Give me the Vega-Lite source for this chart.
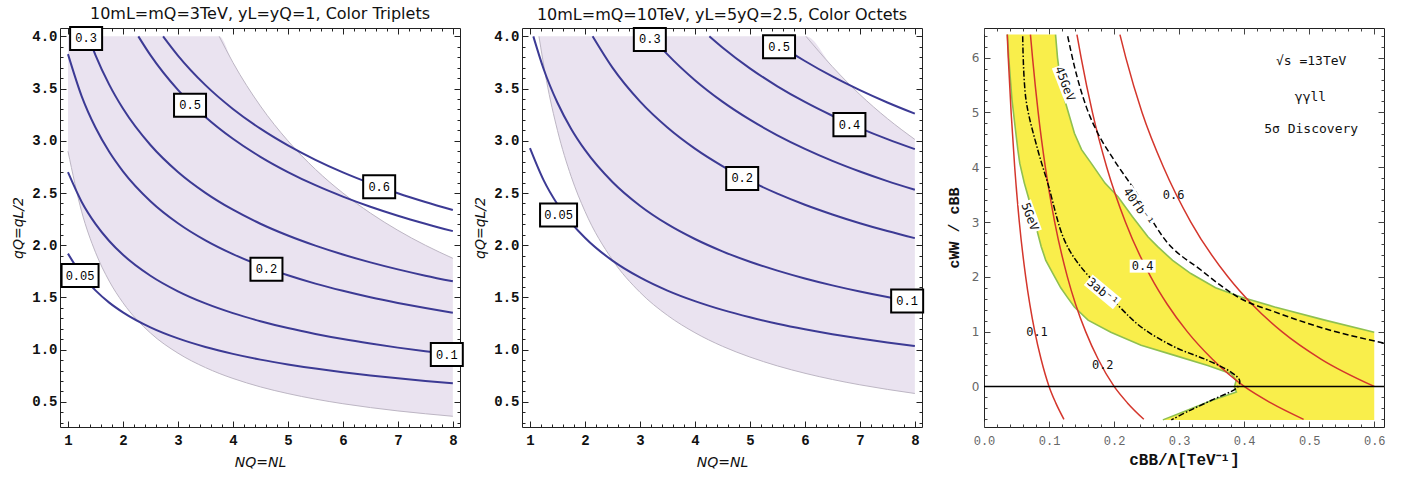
{
"$schema": "https://vega.github.io/schema/vega-lite/v6.json",
"padding": {"left": 11, "top": 5, "right": 5, "bottom": 5},
"background": "white",
"config": {"view": {"stroke": "#222", "strokeWidth": 1}},
"bounds": "flush",
"spacing": 62,
"datasets": {
"r1": [
{"n":1,"lo":2.9,"hi":4},{"n":1.25,"lo":2.32,"hi":4},{"n":1.5,"lo":1.933,"hi":4},{"n":1.75,"lo":1.657,"hi":4},{"n":2,"lo":1.45,"hi":4},{"n":2.5,"lo":1.16,"hi":4},{"n":3,"lo":0.967,"hi":4},{"n":3.5,"lo":0.829,"hi":4},{"n":3.75,"lo":0.773,"hi":4},{"n":4,"lo":0.725,"hi":3.75},{"n":4.5,"lo":0.644,"hi":3.333},{"n":5,"lo":0.58,"hi":3.0},{"n":5.5,"lo":0.527,"hi":2.727},{"n":6,"lo":0.483,"hi":2.5},{"n":6.5,"lo":0.446,"hi":2.308},{"n":7,"lo":0.414,"hi":2.143},{"n":7.5,"lo":0.387,"hi":2.0},{"n":8,"lo":0.3625,"hi":1.875}
],
"c1": [
{"v":"0.05","n":1,"q":1.92},{"v":"0.05","n":1.25,"q":1.717},{"v":"0.05","n":1.5,"q":1.568},{"v":"0.05","n":1.75,"q":1.451},{"v":"0.05","n":2,"q":1.358},{"v":"0.05","n":2.5,"q":1.214},{"v":"0.05","n":3,"q":1.108},{"v":"0.05","n":3.5,"q":1.026},{"v":"0.05","n":4,"q":0.96},{"v":"0.05","n":4.5,"q":0.905},{"v":"0.05","n":5,"q":0.859},{"v":"0.05","n":5.5,"q":0.819},{"v":"0.05","n":6,"q":0.784},{"v":"0.05","n":6.5,"q":0.753},{"v":"0.05","n":7,"q":0.726},{"v":"0.05","n":7.5,"q":0.701},{"v":"0.05","n":8,"q":0.679},
{"v":"0.1","n":1,"q":2.7},{"v":"0.1","n":1.25,"q":2.415},{"v":"0.1","n":1.5,"q":2.205},{"v":"0.1","n":1.75,"q":2.041},{"v":"0.1","n":2,"q":1.909},{"v":"0.1","n":2.5,"q":1.708},{"v":"0.1","n":3,"q":1.559},{"v":"0.1","n":3.5,"q":1.443},{"v":"0.1","n":4,"q":1.35},{"v":"0.1","n":4.5,"q":1.273},{"v":"0.1","n":5,"q":1.207},{"v":"0.1","n":5.5,"q":1.151},{"v":"0.1","n":6,"q":1.102},{"v":"0.1","n":6.5,"q":1.059},{"v":"0.1","n":7,"q":1.02},{"v":"0.1","n":7.5,"q":0.986},{"v":"0.1","n":8,"q":0.955},
{"v":"0.2","n":1,"q":3.83},{"v":"0.2","n":1.25,"q":3.426},{"v":"0.2","n":1.5,"q":3.127},{"v":"0.2","n":1.75,"q":2.895},{"v":"0.2","n":2,"q":2.708},{"v":"0.2","n":2.5,"q":2.422},{"v":"0.2","n":3,"q":2.211},{"v":"0.2","n":3.5,"q":2.047},{"v":"0.2","n":4,"q":1.915},{"v":"0.2","n":4.5,"q":1.805},{"v":"0.2","n":5,"q":1.713},{"v":"0.2","n":5.5,"q":1.633},{"v":"0.2","n":6,"q":1.564},{"v":"0.2","n":6.5,"q":1.502},{"v":"0.2","n":7,"q":1.448},{"v":"0.2","n":7.5,"q":1.399},{"v":"0.2","n":8,"q":1.354},
{"v":"0.3","n":1.369,"q":4.0},{"v":"0.3","n":1.5,"q":3.821},{"v":"0.3","n":1.75,"q":3.538},{"v":"0.3","n":2,"q":3.309},{"v":"0.3","n":2.5,"q":2.96},{"v":"0.3","n":3,"q":2.702},{"v":"0.3","n":3.5,"q":2.502},{"v":"0.3","n":4,"q":2.34},{"v":"0.3","n":4.5,"q":2.206},{"v":"0.3","n":5,"q":2.093},{"v":"0.3","n":5.5,"q":1.996},{"v":"0.3","n":6,"q":1.911},{"v":"0.3","n":6.5,"q":1.836},{"v":"0.3","n":7,"q":1.769},{"v":"0.3","n":7.5,"q":1.709},{"v":"0.3","n":8,"q":1.655},
{"v":"0.5","n":2.28,"q":4.0},{"v":"0.5","n":2.5,"q":3.82},{"v":"0.5","n":3,"q":3.487},{"v":"0.5","n":3.5,"q":3.229},{"v":"0.5","n":4,"q":3.02},{"v":"0.5","n":4.5,"q":2.847},{"v":"0.5","n":5,"q":2.701},{"v":"0.5","n":5.5,"q":2.575},{"v":"0.5","n":6,"q":2.466},{"v":"0.5","n":6.5,"q":2.369},{"v":"0.5","n":7,"q":2.283},{"v":"0.5","n":7.5,"q":2.206},{"v":"0.5","n":8,"q":2.135},
{"v":"0.6","n":2.73,"q":4.0},{"v":"0.6","n":3,"q":3.816},{"v":"0.6","n":3.5,"q":3.533},{"v":"0.6","n":4,"q":3.305},{"v":"0.6","n":4.5,"q":3.116},{"v":"0.6","n":5,"q":2.956},{"v":"0.6","n":5.5,"q":2.818},{"v":"0.6","n":6,"q":2.698},{"v":"0.6","n":6.5,"q":2.593},{"v":"0.6","n":7,"q":2.498},{"v":"0.6","n":7.5,"q":2.414},{"v":"0.6","n":8,"q":2.337}
],
"l1": [
{"t":"0.3","n":1.33,"q":3.98},{"t":"0.5","n":3.22,"q":3.34},{"t":"0.6","n":6.66,"q":2.56},{"t":"0.2","n":4.61,"q":1.77},{"t":"0.1","n":7.89,"q":0.954},{"t":"0.05","n":1.22,"q":1.71}
],
"r2": [
{"n":1.163,"lo":4.0,"hi":4},{"n":1.3,"lo":3.577,"hi":4},{"n":1.5,"lo":3.1,"hi":4},{"n":1.75,"lo":2.657,"hi":4},{"n":2,"lo":2.325,"hi":4},{"n":2.5,"lo":1.86,"hi":4},{"n":3,"lo":1.55,"hi":4},{"n":3.5,"lo":1.329,"hi":4},{"n":4,"lo":1.163,"hi":4},{"n":4.5,"lo":1.033,"hi":4},{"n":5,"lo":0.93,"hi":4},{"n":5.5,"lo":0.845,"hi":4},{"n":6.02,"lo":0.772,"hi":4},{"n":6.5,"lo":0.715,"hi":3.71},{"n":7,"lo":0.664,"hi":3.443},{"n":7.5,"lo":0.62,"hi":3.213},{"n":8,"lo":0.581,"hi":3.013}
],
"c2": [
{"v":"0.05","n":1,"q":2.93},{"v":"0.05","n":1.25,"q":2.621},{"v":"0.05","n":1.5,"q":2.392},{"v":"0.05","n":1.75,"q":2.215},{"v":"0.05","n":2,"q":2.072},{"v":"0.05","n":2.5,"q":1.853},{"v":"0.05","n":3,"q":1.692},{"v":"0.05","n":3.5,"q":1.566},{"v":"0.05","n":4,"q":1.465},{"v":"0.05","n":4.5,"q":1.381},{"v":"0.05","n":5,"q":1.31},{"v":"0.05","n":5.5,"q":1.249},{"v":"0.05","n":6,"q":1.196},{"v":"0.05","n":6.5,"q":1.149},{"v":"0.05","n":7,"q":1.107},{"v":"0.05","n":7.5,"q":1.07},{"v":"0.05","n":8,"q":1.036},
{"v":"0.1","n":1.061,"q":4.0},{"v":"0.1","n":1.25,"q":3.685},{"v":"0.1","n":1.5,"q":3.364},{"v":"0.1","n":1.75,"q":3.114},{"v":"0.1","n":2,"q":2.913},{"v":"0.1","n":2.5,"q":2.606},{"v":"0.1","n":3,"q":2.379},{"v":"0.1","n":3.5,"q":2.202},{"v":"0.1","n":4,"q":2.06},{"v":"0.1","n":4.5,"q":1.942},{"v":"0.1","n":5,"q":1.842},{"v":"0.1","n":5.5,"q":1.757},{"v":"0.1","n":6,"q":1.682},{"v":"0.1","n":6.5,"q":1.616},{"v":"0.1","n":7,"q":1.557},{"v":"0.1","n":7.5,"q":1.504},{"v":"0.1","n":8,"q":1.457},
{"v":"0.2","n":2.139,"q":4.0},{"v":"0.2","n":2.5,"q":3.7},{"v":"0.2","n":3,"q":3.377},{"v":"0.2","n":3.5,"q":3.127},{"v":"0.2","n":4,"q":2.925},{"v":"0.2","n":4.5,"q":2.758},{"v":"0.2","n":5,"q":2.616},{"v":"0.2","n":5.5,"q":2.494},{"v":"0.2","n":6,"q":2.388},{"v":"0.2","n":6.5,"q":2.295},{"v":"0.2","n":7,"q":2.211},{"v":"0.2","n":7.5,"q":2.136},{"v":"0.2","n":8,"q":2.068},
{"v":"0.3","n":3.204,"q":4.0},{"v":"0.3","n":3.5,"q":3.827},{"v":"0.3","n":4,"q":3.58},{"v":"0.3","n":4.5,"q":3.375},{"v":"0.3","n":5,"q":3.202},{"v":"0.3","n":5.5,"q":3.053},{"v":"0.3","n":6,"q":2.923},{"v":"0.3","n":6.5,"q":2.808},{"v":"0.3","n":7,"q":2.706},{"v":"0.3","n":7.5,"q":2.614},{"v":"0.3","n":8,"q":2.531},
{"v":"0.4","n":4.264,"q":4.0},{"v":"0.4","n":4.5,"q":3.894},{"v":"0.4","n":5,"q":3.694},{"v":"0.4","n":5.5,"q":3.522},{"v":"0.4","n":6,"q":3.372},{"v":"0.4","n":6.5,"q":3.24},{"v":"0.4","n":7,"q":3.122},{"v":"0.4","n":7.5,"q":3.016},{"v":"0.4","n":8,"q":2.92},
{"v":"0.5","n":5.313,"q":4.0},{"v":"0.5","n":5.5,"q":3.931},{"v":"0.5","n":6,"q":3.764},{"v":"0.5","n":6.5,"q":3.616},{"v":"0.5","n":7,"q":3.485},{"v":"0.5","n":7.5,"q":3.367},{"v":"0.5","n":8,"q":3.26}
],
"l2": [
{"t":"0.05","n":1.52,"q":2.29},{"t":"0.3","n":3.18,"q":3.97},{"t":"0.5","n":5.53,"q":3.9},{"t":"0.4","n":6.81,"q":3.155},{"t":"0.2","n":4.86,"q":2.64},{"t":"0.1","n":7.86,"q":1.466}
],
"band": [
{"r":6.42,"xl":0.036,"xr":0.11},{"r":6.0,"xl":0.038,"xr":0.113},{"r":5.54,"xl":0.041,"xr":0.118},{"r":5.23,"xl":0.043,"xr":0.124},{"r":4.62,"xl":0.049,"xr":0.139},{"r":4.32,"xl":0.052,"xr":0.15},{"r":4.07,"xl":0.055,"xr":0.165},{"r":3.71,"xl":0.062,"xr":0.186},{"r":3.46,"xl":0.068,"xr":0.206},{"r":3.1,"xl":0.076,"xr":0.228},{"r":2.73,"xl":0.084,"xr":0.252},{"r":2.55,"xl":0.088,"xr":0.267},{"r":2.3,"xl":0.095,"xr":0.29},{"r":2.06,"xl":0.106,"xr":0.318},{"r":1.8,"xl":0.118,"xr":0.356},{"r":1.63,"xl":0.128,"xr":0.395},{"r":1.45,"xl":0.139,"xr":0.447},{"r":1.21,"xl":0.16,"xr":0.524},{"r":0.99,"xl":0.195,"xr":0.6},{"r":0.75,"xl":0.2415,"xr":0.6},{"r":0.567,"xl":0.293,"xr":0.6},{"r":0.384,"xl":0.344,"xr":0.6},{"r":0.232,"xl":0.38,"xr":0.6},{"r":0.11,"xl":0.3877,"xr":0.6},{"r":-0.01,"xl":0.385,"xr":0.6},{"r":-0.1,"xl":0.388,"xr":0.6},{"r":-0.256,"xl":0.35,"xr":0.6},{"r":-0.47,"xl":0.305,"xr":0.6},{"r":-0.61,"xl":0.275,"xr":0.6}
],
"red": [
{"v":"0.1","r":6.42,"c":0.0357},{"v":"0.1","r":6,"c":0.0373},{"v":"0.1","r":5,"c":0.0417},{"v":"0.1","r":4,"c":0.0472},{"v":"0.1","r":3,"c":0.0543},{"v":"0.1","r":2,"c":0.0641},{"v":"0.1","r":1.5,"c":0.0704},{"v":"0.1","r":1,"c":0.0781},{"v":"0.1","r":0.5,"c":0.0877},{"v":"0.1","r":0,"c":0.1},{"v":"0.1","r":-0.3,"c":0.1103},{"v":"0.1","r":-0.6,"c":0.1229},
{"v":"0.2","r":6.42,"c":0.0714},{"v":"0.2","r":6,"c":0.0746},{"v":"0.2","r":5,"c":0.0833},{"v":"0.2","r":4,"c":0.0943},{"v":"0.2","r":3,"c":0.1087},{"v":"0.2","r":2,"c":0.1282},{"v":"0.2","r":1.5,"c":0.1408},{"v":"0.2","r":1,"c":0.1563},{"v":"0.2","r":0.5,"c":0.1754},{"v":"0.2","r":0,"c":0.2},{"v":"0.2","r":-0.3,"c":0.2205},{"v":"0.2","r":-0.6,"c":0.2457},
{"v":"0.4","r":6.42,"c":0.1429},{"v":"0.4","r":6,"c":0.1493},{"v":"0.4","r":5,"c":0.1667},{"v":"0.4","r":4,"c":0.1887},{"v":"0.4","r":3,"c":0.2174},{"v":"0.4","r":2,"c":0.2564},{"v":"0.4","r":1.5,"c":0.2817},{"v":"0.4","r":1,"c":0.3125},{"v":"0.4","r":0.5,"c":0.3509},{"v":"0.4","r":0,"c":0.4},{"v":"0.4","r":-0.3,"c":0.441},{"v":"0.4","r":-0.6,"c":0.4914},
{"v":"0.6","r":6.42,"c":0.209},{"v":"0.6","r":6,"c":0.218},{"v":"0.6","r":5,"c":0.243},{"v":"0.6","r":4,"c":0.276},{"v":"0.6","r":3,"c":0.318},{"v":"0.6","r":2,"c":0.375},{"v":"0.6","r":1.5,"c":0.412},{"v":"0.6","r":1,"c":0.458},{"v":"0.6","r":0.5,"c":0.518},{"v":"0.6","r":0,"c":0.6}
],
"dash": [
{"r":6.39,"c":0.1287},{"r":5.84,"c":0.139},{"r":5.11,"c":0.157},{"r":4.62,"c":0.175},{"r":4.13,"c":0.2},{"r":3.5,"c":0.236},{"r":3.0,"c":0.26},{"r":2.73,"c":0.275},{"r":2.12,"c":0.334},{"r":1.6,"c":0.395},{"r":1.36,"c":0.447},{"r":1.055,"c":0.524},{"r":0.79,"c":0.615}
],
"dashdot": [
{"r":6.39,"c":0.0595},{"r":5.23,"c":0.0646},{"r":4.32,"c":0.0826},{"r":3.71,"c":0.098},{"r":2.67,"c":0.1236},{"r":2.18,"c":0.149},{"r":1.48,"c":0.206},{"r":1.085,"c":0.2415},{"r":0.72,"c":0.293},{"r":0.476,"c":0.344},{"r":0.26,"c":0.38},{"r":0.11,"c":0.393},{"r":-0.01,"c":0.39},{"r":-0.256,"c":0.349},{"r":-0.44,"c":0.316},{"r":-0.61,"c":0.288}
],
"t3": [
{"t":"√s =13TeV","c":0.503,"r":5.94},{"t":"γγll","c":0.502,"r":5.29},{"t":"5σ Discovery","c":0.503,"r":4.7},{"t":"0.1","c":0.0815,"r":0.99},{"t":"0.2","c":0.1826,"r":0.384},{"t":"0.4","c":0.244,"r":2.195},{"t":"0.6","c":0.2915,"r":3.49},{"t":"45GeV","c":0.1246,"r":5.524},{"t":"5GeV","c":0.0708,"r":3.097},{"t":"40fb⁻¹","c":0.2374,"r":3.28},{"t":"3ab⁻¹","c":0.1826,"r":1.725}
]
},
"hconcat": [
{
"width": 400, "height": 399,
"title": {"text": "10mL=mQ=3TeV, yL=yQ=1, Color Triplets", "font": "DejaVu Sans", "fontSize": 16, "fontWeight": "normal", "color": "#111", "offset": 1},
"resolve": {"axis": {"x": "independent", "y": "independent"}},
"layer": [
{"data": {"name": "r1"}, "mark": {"type": "area", "color": "#eae3f0", "opacity": 1, "interpolate": "monotone", "clip": true},
 "encoding": {
  "x": {"field": "n", "type": "quantitative", "scale": {"domain": [0.855, 8.13], "nice": false, "zero": false},
        "axis": {"orient": "bottom", "values": [1,2,3,4,5,6,7,8], "format": "d", "tickSize": -6, "tickColor": "#222", "labelFont": "Liberation Mono", "labelFontSize": 14, "labelFontWeight": "bold", "labelColor": "#111", "labelPadding": 12, "labelFlush": false, "labelOverlap": false, "domain": false, "grid": false, "title": "NQ=NL", "titleFont": "DejaVu Sans", "titleFontSize": 14, "titleFontStyle": "italic", "titleFontWeight": "normal", "titleColor": "#111", "titlePadding": 8}},
  "y": {"field": "lo", "type": "quantitative", "scale": {"domain": [0.26, 4.08], "nice": false, "zero": false},
        "axis": {"orient": "left", "values": [0.5,1,1.5,2,2.5,3,3.5,4], "format": ".1f", "tickSize": -6, "tickColor": "#222", "labelFont": "Liberation Mono", "labelFontSize": 14, "labelFontWeight": "bold", "labelColor": "#111", "labelPadding": 9, "labelFlush": false, "labelOverlap": false, "domain": false, "grid": false, "title": "qQ=qL/2", "titleFont": "DejaVu Sans", "titleFontSize": 14, "titleFontStyle": "italic", "titleFontWeight": "normal", "titleColor": "#111", "titlePadding": 6}},
  "y2": {"field": "hi"}}},
{"data": {"name": "r1"}, "mark": {"type": "line", "color": "#bdb6c4", "strokeWidth": 1, "interpolate": "monotone", "clip": true},
 "encoding": {
  "x": {"field": "n", "type": "quantitative", "scale": {"domain": [0.855, 8.13], "nice": false, "zero": false},
        "axis": {"orient": "bottom", "values": [1.2,1.4,1.6,1.8,2.2,2.4,2.6,2.8,3.2,3.4,3.6,3.8,4.2,4.4,4.6,4.8,5.2,5.4,5.6,5.8,6.2,6.4,6.6,6.8,7.2,7.4,7.6,7.8], "tickSize": -3, "tickColor": "#222", "labels": false, "title": null, "domain": false, "grid": false}},
  "y": {"field": "lo", "type": "quantitative", "scale": {"domain": [0.26, 4.08], "nice": false, "zero": false},
        "axis": {"orient": "left", "values": [0.3,0.4,0.6,0.7,0.8,0.9,1.1,1.2,1.3,1.4,1.6,1.7,1.8,1.9,2.1,2.2,2.3,2.4,2.6,2.7,2.8,2.9,3.1,3.2,3.3,3.4,3.6,3.7,3.8,3.9], "tickSize": -3, "tickColor": "#222", "labels": false, "title": null, "domain": false, "grid": false}}}},
{"data": {"name": "r1"}, "transform": [{"filter": "datum.n >= 3.75"}], "mark": {"type": "line", "color": "#bdb6c4", "strokeWidth": 1, "interpolate": "monotone", "clip": true},
 "encoding": {
  "x": {"field": "n", "type": "quantitative", "scale": {"domain": [0.855, 8.13], "nice": false, "zero": false},
        "axis": {"orient": "top", "values": [1,2,3,4,5,6,7,8], "tickSize": -6, "tickColor": "#222", "labels": false, "title": null, "domain": false, "grid": false}},
  "y": {"field": "hi", "type": "quantitative", "scale": {"domain": [0.26, 4.08], "nice": false, "zero": false},
        "axis": {"orient": "right", "values": [0.5,1,1.5,2,2.5,3,3.5,4], "tickSize": -6, "tickColor": "#222", "labels": false, "title": null, "domain": false, "grid": false}}}},
{"data": {"name": "c1"}, "mark": {"type": "line", "color": "#3c3a94", "strokeWidth": 2, "interpolate": "monotone", "clip": true},
 "encoding": {
  "x": {"field": "n", "type": "quantitative", "scale": {"domain": [0.855, 8.13], "nice": false, "zero": false},
        "axis": {"orient": "top", "values": [1.2,1.4,1.6,1.8,2.2,2.4,2.6,2.8,3.2,3.4,3.6,3.8,4.2,4.4,4.6,4.8,5.2,5.4,5.6,5.8,6.2,6.4,6.6,6.8,7.2,7.4,7.6,7.8], "tickSize": -3, "tickColor": "#222", "labels": false, "title": null, "domain": false, "grid": false}},
  "y": {"field": "q", "type": "quantitative", "scale": {"domain": [0.26, 4.08], "nice": false, "zero": false},
        "axis": {"orient": "right", "values": [0.3,0.4,0.6,0.7,0.8,0.9,1.1,1.2,1.3,1.4,1.6,1.7,1.8,1.9,2.1,2.2,2.3,2.4,2.6,2.7,2.8,2.9,3.1,3.2,3.3,3.4,3.6,3.7,3.8,3.9], "tickSize": -3, "tickColor": "#222", "labels": false, "title": null, "domain": false, "grid": false}},
  "detail": {"field": "v", "type": "nominal"}}},
{"data": {"name": "l1"}, "transform": [{"filter": "datum.t != '0.05'"}], "mark": {"type": "point", "shape": "M-1,-0.72H1V0.72H-1Z", "size": 1024, "filled": true, "fill": "white", "stroke": "black", "strokeWidth": 2, "opacity": 1},
 "encoding": {
  "x": {"field": "n", "type": "quantitative", "scale": {"domain": [0.855, 8.13], "nice": false, "zero": false}, "axis": null},
  "y": {"field": "q", "type": "quantitative", "scale": {"domain": [0.26, 4.08], "nice": false, "zero": false}, "axis": null}}},
{"data": {"name": "l1"}, "transform": [{"filter": "datum.t == '0.05'"}], "mark": {"type": "point", "shape": "M-1,-0.62H1V0.62H-1Z", "size": 1369, "filled": true, "fill": "white", "stroke": "black", "strokeWidth": 2, "opacity": 1},
 "encoding": {
  "x": {"field": "n", "type": "quantitative", "scale": {"domain": [0.855, 8.13], "nice": false, "zero": false}, "axis": null},
  "y": {"field": "q", "type": "quantitative", "scale": {"domain": [0.26, 4.08], "nice": false, "zero": false}, "axis": null}}},
{"data": {"name": "l1"}, "mark": {"type": "text", "font": "Liberation Mono", "fontSize": 12, "color": "black", "align": "center", "baseline": "middle"},
 "encoding": {
  "x": {"field": "n", "type": "quantitative", "scale": {"domain": [0.855, 8.13], "nice": false, "zero": false}, "axis": null},
  "y": {"field": "q", "type": "quantitative", "scale": {"domain": [0.26, 4.08], "nice": false, "zero": false}, "axis": null},
  "text": {"field": "t"}}}
]
},
{
"width": 400, "height": 399,
"title": {"text": "10mL=mQ=10TeV, yL=5yQ=2.5, Color Octets", "font": "DejaVu Sans", "fontSize": 16, "fontWeight": "normal", "color": "#111", "offset": 1},
"resolve": {"axis": {"x": "independent", "y": "independent"}},
"layer": [
{"data": {"name": "r2"}, "mark": {"type": "area", "color": "#eae3f0", "opacity": 1, "interpolate": "monotone", "clip": true},
 "encoding": {
  "x": {"field": "n", "type": "quantitative", "scale": {"domain": [0.855, 8.13], "nice": false, "zero": false},
        "axis": {"orient": "bottom", "values": [1,2,3,4,5,6,7,8], "format": "d", "tickSize": -6, "tickColor": "#222", "labelFont": "Liberation Mono", "labelFontSize": 14, "labelFontWeight": "bold", "labelColor": "#111", "labelPadding": 12, "labelFlush": false, "labelOverlap": false, "domain": false, "grid": false, "title": "NQ=NL", "titleFont": "DejaVu Sans", "titleFontSize": 14, "titleFontStyle": "italic", "titleFontWeight": "normal", "titleColor": "#111", "titlePadding": 8}},
  "y": {"field": "lo", "type": "quantitative", "scale": {"domain": [0.26, 4.08], "nice": false, "zero": false},
        "axis": {"orient": "left", "values": [0.5,1,1.5,2,2.5,3,3.5,4], "format": ".1f", "tickSize": -6, "tickColor": "#222", "labelFont": "Liberation Mono", "labelFontSize": 14, "labelFontWeight": "bold", "labelColor": "#111", "labelPadding": 9, "labelFlush": false, "labelOverlap": false, "domain": false, "grid": false, "title": "qQ=qL/2", "titleFont": "DejaVu Sans", "titleFontSize": 14, "titleFontStyle": "italic", "titleFontWeight": "normal", "titleColor": "#111", "titlePadding": 6}},
  "y2": {"field": "hi"}}},
{"data": {"name": "r2"}, "mark": {"type": "line", "color": "#bdb6c4", "strokeWidth": 1, "interpolate": "monotone", "clip": true},
 "encoding": {
  "x": {"field": "n", "type": "quantitative", "scale": {"domain": [0.855, 8.13], "nice": false, "zero": false},
        "axis": {"orient": "bottom", "values": [1.2,1.4,1.6,1.8,2.2,2.4,2.6,2.8,3.2,3.4,3.6,3.8,4.2,4.4,4.6,4.8,5.2,5.4,5.6,5.8,6.2,6.4,6.6,6.8,7.2,7.4,7.6,7.8], "tickSize": -3, "tickColor": "#222", "labels": false, "title": null, "domain": false, "grid": false}},
  "y": {"field": "lo", "type": "quantitative", "scale": {"domain": [0.26, 4.08], "nice": false, "zero": false},
        "axis": {"orient": "left", "values": [0.3,0.4,0.6,0.7,0.8,0.9,1.1,1.2,1.3,1.4,1.6,1.7,1.8,1.9,2.1,2.2,2.3,2.4,2.6,2.7,2.8,2.9,3.1,3.2,3.3,3.4,3.6,3.7,3.8,3.9], "tickSize": -3, "tickColor": "#222", "labels": false, "title": null, "domain": false, "grid": false}}}},
{"data": {"name": "r2"}, "transform": [{"filter": "datum.n >= 6.02"}], "mark": {"type": "line", "color": "#bdb6c4", "strokeWidth": 1, "interpolate": "monotone", "clip": true},
 "encoding": {
  "x": {"field": "n", "type": "quantitative", "scale": {"domain": [0.855, 8.13], "nice": false, "zero": false},
        "axis": {"orient": "top", "values": [1,2,3,4,5,6,7,8], "tickSize": -6, "tickColor": "#222", "labels": false, "title": null, "domain": false, "grid": false}},
  "y": {"field": "hi", "type": "quantitative", "scale": {"domain": [0.26, 4.08], "nice": false, "zero": false},
        "axis": {"orient": "right", "values": [0.5,1,1.5,2,2.5,3,3.5,4], "tickSize": -6, "tickColor": "#222", "labels": false, "title": null, "domain": false, "grid": false}}}},
{"data": {"name": "c2"}, "mark": {"type": "line", "color": "#3c3a94", "strokeWidth": 2, "interpolate": "monotone", "clip": true},
 "encoding": {
  "x": {"field": "n", "type": "quantitative", "scale": {"domain": [0.855, 8.13], "nice": false, "zero": false},
        "axis": {"orient": "top", "values": [1.2,1.4,1.6,1.8,2.2,2.4,2.6,2.8,3.2,3.4,3.6,3.8,4.2,4.4,4.6,4.8,5.2,5.4,5.6,5.8,6.2,6.4,6.6,6.8,7.2,7.4,7.6,7.8], "tickSize": -3, "tickColor": "#222", "labels": false, "title": null, "domain": false, "grid": false}},
  "y": {"field": "q", "type": "quantitative", "scale": {"domain": [0.26, 4.08], "nice": false, "zero": false},
        "axis": {"orient": "right", "values": [0.3,0.4,0.6,0.7,0.8,0.9,1.1,1.2,1.3,1.4,1.6,1.7,1.8,1.9,2.1,2.2,2.3,2.4,2.6,2.7,2.8,2.9,3.1,3.2,3.3,3.4,3.6,3.7,3.8,3.9], "tickSize": -3, "tickColor": "#222", "labels": false, "title": null, "domain": false, "grid": false}},
  "detail": {"field": "v", "type": "nominal"}}},
{"data": {"name": "l2"}, "transform": [{"filter": "datum.t != '0.05'"}], "mark": {"type": "point", "shape": "M-1,-0.72H1V0.72H-1Z", "size": 1024, "filled": true, "fill": "white", "stroke": "black", "strokeWidth": 2, "opacity": 1},
 "encoding": {
  "x": {"field": "n", "type": "quantitative", "scale": {"domain": [0.855, 8.13], "nice": false, "zero": false}, "axis": null},
  "y": {"field": "q", "type": "quantitative", "scale": {"domain": [0.26, 4.08], "nice": false, "zero": false}, "axis": null}}},
{"data": {"name": "l2"}, "transform": [{"filter": "datum.t == '0.05'"}], "mark": {"type": "point", "shape": "M-1,-0.62H1V0.62H-1Z", "size": 1369, "filled": true, "fill": "white", "stroke": "black", "strokeWidth": 2, "opacity": 1},
 "encoding": {
  "x": {"field": "n", "type": "quantitative", "scale": {"domain": [0.855, 8.13], "nice": false, "zero": false}, "axis": null},
  "y": {"field": "q", "type": "quantitative", "scale": {"domain": [0.26, 4.08], "nice": false, "zero": false}, "axis": null}}},
{"data": {"name": "l2"}, "mark": {"type": "text", "font": "Liberation Mono", "fontSize": 12, "color": "black", "align": "center", "baseline": "middle"},
 "encoding": {
  "x": {"field": "n", "type": "quantitative", "scale": {"domain": [0.855, 8.13], "nice": false, "zero": false}, "axis": null},
  "y": {"field": "q", "type": "quantitative", "scale": {"domain": [0.26, 4.08], "nice": false, "zero": false}, "axis": null},
  "text": {"field": "t"}}}
]
},
{
"width": 400, "height": 399,
"resolve": {"axis": {"x": "independent", "y": "independent"}},
"layer": [
{"data": {"name": "band"}, "mark": {"type": "area", "orient": "horizontal", "color": "#f9ee4b", "opacity": 1, "interpolate": "linear", "clip": true},
 "encoding": {
  "y": {"field": "r", "type": "quantitative", "scale": {"domain": [-0.74, 6.54], "nice": false, "zero": false},
        "axis": {"orient": "left", "values": [0,1,2,3,4,5,6], "format": "d", "tickSize": -6, "tickColor": "#444", "labelFont": "DejaVu Sans", "labelFontSize": 12, "labelColor": "#666", "labelPadding": 11, "labelFlush": false, "labelOverlap": false, "domain": false, "grid": false, "title": "cWW / cBB", "titleFont": "Liberation Mono", "titleFontSize": 15, "titleFontWeight": "bold", "titleColor": "#111", "titlePadding": 10}},
  "x": {"field": "xl", "type": "quantitative", "scale": {"domain": [0, 0.615], "nice": false, "zero": false},
        "axis": {"orient": "bottom", "values": [0,0.1,0.2,0.3,0.4,0.5,0.6], "format": ".1f", "tickSize": -6, "tickColor": "#444", "labelFont": "Liberation Mono", "labelFontSize": 12, "labelColor": "#666", "labelPadding": 14, "labelFlush": false, "labelOverlap": false, "domain": false, "grid": false, "title": "cBB/Λ[TeV⁻¹]", "titleFont": "Liberation Mono", "titleFontSize": 16, "titleFontWeight": "bold", "titleColor": "#111", "titlePadding": 5}},
  "x2": {"field": "xr"}}},
{"data": {"name": "band"}, "mark": {"type": "line", "color": "#8fc04f", "strokeWidth": 1.6, "interpolate": "linear", "clip": true},
 "encoding": {
  "x": {"field": "xl", "type": "quantitative", "scale": {"domain": [0, 0.615], "nice": false, "zero": false},
        "axis": {"orient": "bottom", "values": [0.02,0.04,0.06,0.08,0.12,0.14,0.16,0.18,0.22,0.24,0.26,0.28,0.32,0.34,0.36,0.38,0.42,0.44,0.46,0.48,0.52,0.54,0.56,0.58], "tickSize": -3, "tickColor": "#444", "labels": false, "title": null, "domain": false, "grid": false}},
  "y": {"field": "r", "type": "quantitative", "scale": {"domain": [-0.74, 6.54], "nice": false, "zero": false},
        "axis": {"orient": "left", "values": [-0.6,-0.4,-0.2,0.2,0.4,0.6,0.8,1.2,1.4,1.6,1.8,2.2,2.4,2.6,2.8,3.2,3.4,3.6,3.8,4.2,4.4,4.6,4.8,5.2,5.4,5.6,5.8,6.2,6.4], "tickSize": -3, "tickColor": "#444", "labels": false, "title": null, "domain": false, "grid": false}},
  "order": {"field": "r", "type": "quantitative"}}},
{"data": {"name": "band"}, "transform": [{"filter": "datum.r >= 0.99"}], "mark": {"type": "line", "color": "#8fc04f", "strokeWidth": 1.6, "interpolate": "linear", "clip": true},
 "encoding": {
  "x": {"field": "xr", "type": "quantitative", "scale": {"domain": [0, 0.615], "nice": false, "zero": false},
        "axis": {"orient": "top", "values": [0,0.1,0.2,0.3,0.4,0.5,0.6], "tickSize": -6, "tickColor": "#444", "labels": false, "title": null, "domain": false, "grid": false}},
  "y": {"field": "r", "type": "quantitative", "scale": {"domain": [-0.74, 6.54], "nice": false, "zero": false},
        "axis": {"orient": "right", "values": [0,1,2,3,4,5,6], "tickSize": -6, "tickColor": "#444", "labels": false, "title": null, "domain": false, "grid": false}},
  "order": {"field": "r", "type": "quantitative"}}},
{"data": {"name": "red"}, "mark": {"type": "line", "color": "#d4362c", "strokeWidth": 1.5, "interpolate": "monotone", "clip": true},
 "encoding": {
  "x": {"field": "c", "type": "quantitative", "scale": {"domain": [0, 0.615], "nice": false, "zero": false},
        "axis": {"orient": "top", "values": [0.02,0.04,0.06,0.08,0.12,0.14,0.16,0.18,0.22,0.24,0.26,0.28,0.32,0.34,0.36,0.38,0.42,0.44,0.46,0.48,0.52,0.54,0.56,0.58], "tickSize": -3, "tickColor": "#444", "labels": false, "title": null, "domain": false, "grid": false}},
  "y": {"field": "r", "type": "quantitative", "scale": {"domain": [-0.74, 6.54], "nice": false, "zero": false},
        "axis": {"orient": "right", "values": [-0.6,-0.4,-0.2,0.2,0.4,0.6,0.8,1.2,1.4,1.6,1.8,2.2,2.4,2.6,2.8,3.2,3.4,3.6,3.8,4.2,4.4,4.6,4.8,5.2,5.4,5.6,5.8,6.2,6.4], "tickSize": -3, "tickColor": "#444", "labels": false, "title": null, "domain": false, "grid": false}},
  "detail": {"field": "v", "type": "nominal"}}},
{"data": {"name": "dash"}, "mark": {"type": "line", "color": "black", "strokeWidth": 1.5, "strokeDash": [6, 3], "interpolate": "monotone", "clip": true},
 "encoding": {
  "x": {"field": "c", "type": "quantitative", "scale": {"domain": [0, 0.615], "nice": false, "zero": false}, "axis": null},
  "y": {"field": "r", "type": "quantitative", "scale": {"domain": [-0.74, 6.54], "nice": false, "zero": false}, "axis": null}}},
{"data": {"name": "dashdot"}, "mark": {"type": "line", "color": "black", "strokeWidth": 1.5, "strokeDash": [6, 2, 1.5, 2], "interpolate": "catmull-rom", "clip": true},
 "encoding": {
  "x": {"field": "c", "type": "quantitative", "scale": {"domain": [0, 0.615], "nice": false, "zero": false}, "axis": null},
  "y": {"field": "r", "type": "quantitative", "scale": {"domain": [-0.74, 6.54], "nice": false, "zero": false}, "axis": null},
  "order": {"field": "r", "type": "quantitative", "sort": "descending"}}},
{"data": {"values": [{"r": 0}]}, "mark": {"type": "rule", "color": "black", "strokeWidth": 1.4},
 "encoding": {
  "y": {"field": "r", "type": "quantitative", "scale": {"domain": [-0.74, 6.54], "nice": false, "zero": false}, "axis": null}}},
{"data": {"name": "t3"}, "transform": [{"filter": {"field": "t", "equal": "0.4"}}], "mark": {"type": "point", "shape": "M-1,-0.5H1V0.5H-1Z", "size": 676, "filled": true, "fill": "white", "strokeWidth": 0, "opacity": 1},
 "encoding": {
  "x": {"field": "c", "type": "quantitative", "scale": {"domain": [0, 0.615], "nice": false, "zero": false}, "axis": null},
  "y": {"field": "r", "type": "quantitative", "scale": {"domain": [-0.74, 6.54], "nice": false, "zero": false}, "axis": null}}},
{"data": {"name": "t3"}, "transform": [{"filter": {"field": "t", "equal": "45GeV"}}], "mark": {"type": "point", "shape": "M-1,-0.36H1V0.36H-1Z", "size": 1444, "angle": 69, "filled": true, "fill": "white", "strokeWidth": 0, "opacity": 1},
 "encoding": {
  "x": {"field": "c", "type": "quantitative", "scale": {"domain": [0, 0.615], "nice": false, "zero": false}, "axis": null},
  "y": {"field": "r", "type": "quantitative", "scale": {"domain": [-0.74, 6.54], "nice": false, "zero": false}, "axis": null}}},
{"data": {"name": "t3"}, "transform": [{"filter": {"field": "t", "equal": "5GeV"}}], "mark": {"type": "point", "shape": "M-1,-0.42H1V0.42H-1Z", "size": 1024, "angle": 70, "filled": true, "fill": "white", "strokeWidth": 0, "opacity": 1},
 "encoding": {
  "x": {"field": "c", "type": "quantitative", "scale": {"domain": [0, 0.615], "nice": false, "zero": false}, "axis": null},
  "y": {"field": "r", "type": "quantitative", "scale": {"domain": [-0.74, 6.54], "nice": false, "zero": false}, "axis": null}}},
{"data": {"name": "t3"}, "transform": [{"filter": {"field": "t", "equal": "40fb⁻¹"}}], "mark": {"type": "point", "shape": "M-1,-0.32H1V0.32H-1Z", "size": 1936, "angle": 55, "filled": true, "fill": "white", "strokeWidth": 0, "opacity": 1},
 "encoding": {
  "x": {"field": "c", "type": "quantitative", "scale": {"domain": [0, 0.615], "nice": false, "zero": false}, "axis": null},
  "y": {"field": "r", "type": "quantitative", "scale": {"domain": [-0.74, 6.54], "nice": false, "zero": false}, "axis": null}}},
{"data": {"name": "t3"}, "transform": [{"filter": {"field": "t", "equal": "3ab⁻¹"}}], "mark": {"type": "point", "shape": "M-1,-0.36H1V0.36H-1Z", "size": 1444, "angle": 40, "filled": true, "fill": "white", "strokeWidth": 0, "opacity": 1},
 "encoding": {
  "x": {"field": "c", "type": "quantitative", "scale": {"domain": [0, 0.615], "nice": false, "zero": false}, "axis": null},
  "y": {"field": "r", "type": "quantitative", "scale": {"domain": [-0.74, 6.54], "nice": false, "zero": false}, "axis": null}}},
{"data": {"name": "t3"}, "transform": [{"filter": {"field": "t", "oneOf": ["√s =13TeV", "γγll", "5σ Discovery"]}}], "mark": {"type": "text", "font": "DejaVu Sans Mono", "fontSize": 13, "color": "#111", "align": "center", "baseline": "middle"},
 "encoding": {
  "x": {"field": "c", "type": "quantitative", "scale": {"domain": [0, 0.615], "nice": false, "zero": false}, "axis": null},
  "y": {"field": "r", "type": "quantitative", "scale": {"domain": [-0.74, 6.54], "nice": false, "zero": false}, "axis": null},
  "text": {"field": "t"}}},
{"data": {"name": "t3"}, "transform": [{"filter": {"field": "t", "oneOf": ["0.1", "0.2", "0.4", "0.6"]}}], "mark": {"type": "text", "font": "DejaVu Sans Mono", "fontSize": 12, "color": "#111", "align": "center", "baseline": "middle"},
 "encoding": {
  "x": {"field": "c", "type": "quantitative", "scale": {"domain": [0, 0.615], "nice": false, "zero": false}, "axis": null},
  "y": {"field": "r", "type": "quantitative", "scale": {"domain": [-0.74, 6.54], "nice": false, "zero": false}, "axis": null},
  "text": {"field": "t"}}},
{"data": {"name": "t3"}, "transform": [{"filter": {"field": "t", "equal": "45GeV"}}], "mark": {"type": "text", "font": "DejaVu Sans Mono", "fontSize": 12, "color": "#111", "align": "center", "baseline": "middle", "angle": 69},
 "encoding": {
  "x": {"field": "c", "type": "quantitative", "scale": {"domain": [0, 0.615], "nice": false, "zero": false}, "axis": null},
  "y": {"field": "r", "type": "quantitative", "scale": {"domain": [-0.74, 6.54], "nice": false, "zero": false}, "axis": null},
  "text": {"field": "t"}}},
{"data": {"name": "t3"}, "transform": [{"filter": {"field": "t", "equal": "5GeV"}}], "mark": {"type": "text", "font": "DejaVu Sans Mono", "fontSize": 12, "color": "#111", "align": "center", "baseline": "middle", "angle": 70},
 "encoding": {
  "x": {"field": "c", "type": "quantitative", "scale": {"domain": [0, 0.615], "nice": false, "zero": false}, "axis": null},
  "y": {"field": "r", "type": "quantitative", "scale": {"domain": [-0.74, 6.54], "nice": false, "zero": false}, "axis": null},
  "text": {"field": "t"}}},
{"data": {"name": "t3"}, "transform": [{"filter": {"field": "t", "equal": "40fb⁻¹"}}], "mark": {"type": "text", "font": "DejaVu Sans Mono", "fontSize": 12, "color": "#111", "align": "center", "baseline": "middle", "angle": 55},
 "encoding": {
  "x": {"field": "c", "type": "quantitative", "scale": {"domain": [0, 0.615], "nice": false, "zero": false}, "axis": null},
  "y": {"field": "r", "type": "quantitative", "scale": {"domain": [-0.74, 6.54], "nice": false, "zero": false}, "axis": null},
  "text": {"field": "t"}}},
{"data": {"name": "t3"}, "transform": [{"filter": {"field": "t", "equal": "3ab⁻¹"}}], "mark": {"type": "text", "font": "DejaVu Sans Mono", "fontSize": 12, "color": "#111", "align": "center", "baseline": "middle", "angle": 40},
 "encoding": {
  "x": {"field": "c", "type": "quantitative", "scale": {"domain": [0, 0.615], "nice": false, "zero": false}, "axis": null},
  "y": {"field": "r", "type": "quantitative", "scale": {"domain": [-0.74, 6.54], "nice": false, "zero": false}, "axis": null},
  "text": {"field": "t"}}}
]
}
]
}
